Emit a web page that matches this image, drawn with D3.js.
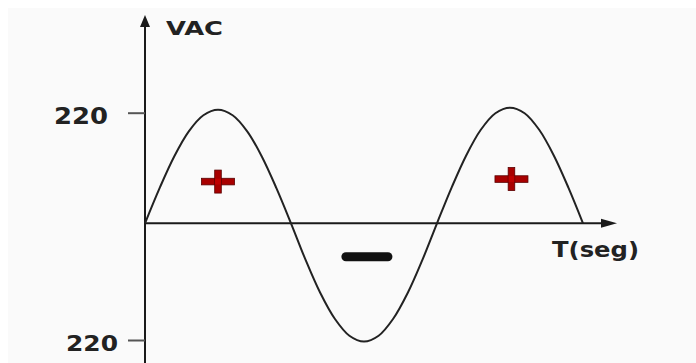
<!DOCTYPE html>
<html>
<head>
<meta charset="utf-8">
<script src="https://cdn.jsdelivr.net/npm/d3@7"></script>
<style>
  html, body { margin: 0; padding: 0; background: #ffffff; }
  svg { display: block; }
</style>
</head>
<body>
<div id="chart"></div>
<script>
// tiempo en ms (1,5 periodos de 50 Hz) y tensión
const tMs = [0, 1, 2, 3, 4, 5, 6, 7, 8, 9, 10,
  11, 12, 13, 14, 15, 16, 17, 18, 19, 20,
  21, 22, 23, 24, 25, 26, 27, 28, 29, 30];
const vac = [0, 70, 133, 183, 215, 226, 215, 183, 133, 70, 0,
  -69, -131, -180, -212, -223, -212, -180, -131, -69, 0,
  71, 135, 186, 219, 230, 219, 186, 135, 71, 0];

const yTicks = [220, -220];
const yTickLabels = ['220', '220'];

// signos + / - dentro de cada semiciclo
const signT = [5, 25.1, 15.2];
const signV = [83, 88, -63];
const signType = ['plus', 'plus', 'minus'];

const width = 696, height = 363;

const x = d3.scaleLinear().domain([0, 30]).range([145, 583]);
const y = d3.scaleLinear().domain([-220, 0, 220]).range([340, 223.3, 112.7]);

const svg = d3.select('#chart').append('svg')
  .attr('width', width)
  .attr('height', height);

svg.append('rect')
  .attr('x', 8).attr('y', 8)
  .attr('width', width - 8).attr('height', height - 8)
  .attr('fill', '#fafafa');

const axisColor = '#1a1a1a';

// eje Y con flecha
const x0 = x(0);
svg.append('line')
  .attr('x1', x0).attr('x2', x0)
  .attr('y1', height).attr('y2', 25)
  .attr('stroke', axisColor).attr('stroke-width', 2);
svg.append('path')
  .attr('d', `M${x0},15 L${x0 - 5},27 L${x0 + 5},27 Z`)
  .attr('fill', axisColor);

// eje X con flecha
const y0 = y(0);
svg.append('line')
  .attr('x1', x0).attr('x2', 604)
  .attr('y1', y0).attr('y2', y0)
  .attr('stroke', axisColor).attr('stroke-width', 2);
svg.append('path')
  .attr('d', `M617,${y0} L601,${y0 - 4.5} L601,${y0 + 4.5} Z`)
  .attr('fill', axisColor);

// ticks del eje Y
const yAxis = d3.axisLeft(y)
  .tickValues(yTicks)
  .tickFormat((d, i) => yTickLabels[i])
  .tickSize(17)
  .tickPadding(14);

const gy = svg.append('g')
  .attr('transform', `translate(${x0},0)`)
  .call(yAxis);
gy.select('.domain').remove();
gy.selectAll('.tick line')
  .attr('stroke', '#555')
  .attr('stroke-width', 2);
gy.selectAll('.tick text')
  .attr('fill', '#222')
  .attr('font-family', 'DejaVu Sans, Verdana, sans-serif')
  .attr('font-weight', 'bold')
  .attr('font-size', d => d > 0 ? 23 : 21.5)
  .attr('dx', d => d > 0 ? -6 : 4)
  .attr('dy', '0.48em')
  .attr('textLength', d => d > 0 ? 54 : 52)
  .attr('lengthAdjust', 'spacingAndGlyphs');

// curva senoidal
svg.append('path')
  .datum(tMs)
  .attr('fill', 'none')
  .attr('stroke', '#222')
  .attr('stroke-width', 2)
  .attr('d', d3.line()
    .x(d => x(d))
    .y((d, i) => y(vac[i]))
    .curve(d3.curveCatmullRom));

// signos
const signs = svg.selectAll('g.sign')
  .data(signT)
  .enter().append('g')
    .attr('class', 'sign')
    .attr('transform', (d, i) => `translate(${x(d)},${y(signV[i])})`);

signs.filter((d, i) => signType[i] === 'plus').each(function () {
  const g = d3.select(this);
  g.append('rect')
    .attr('x', -16.5).attr('y', -3.3)
    .attr('width', 33).attr('height', 6.6)
    .attr('fill', '#a80000').attr('stroke', '#5a0000').attr('stroke-width', 0.8);
  g.append('rect')
    .attr('x', -3.3).attr('y', -11.5)
    .attr('width', 6.6).attr('height', 23)
    .attr('fill', '#a80000').attr('stroke', '#5a0000').attr('stroke-width', 0.8);
  g.append('rect')
    .attr('x', -2.9).attr('y', -2.9)
    .attr('width', 5.8).attr('height', 5.8)
    .attr('fill', '#c00000');
});

signs.filter((d, i) => signType[i] === 'minus')
  .append('rect')
    .attr('x', -25.5).attr('y', -4.5)
    .attr('width', 51).attr('height', 9)
    .attr('rx', 4.5)
    .attr('fill', '#111');

// títulos de los ejes
svg.append('text')
  .attr('x', 166).attr('y', 35)
  .attr('fill', '#222')
  .attr('font-family', 'DejaVu Sans, Verdana, sans-serif')
  .attr('font-weight', 'bold')
  .attr('font-size', 19.5)
  .attr('textLength', 57)
  .attr('lengthAdjust', 'spacingAndGlyphs')
  .text('VAC');

svg.append('text')
  .attr('x', 552).attr('y', 257)
  .attr('fill', '#222')
  .attr('font-family', 'DejaVu Sans, Verdana, sans-serif')
  .attr('font-weight', 'bold')
  .attr('font-size', 21)
  .attr('textLength', 87)
  .attr('lengthAdjust', 'spacingAndGlyphs')
  .text('T(seg)');
</script>
</body>
</html>
